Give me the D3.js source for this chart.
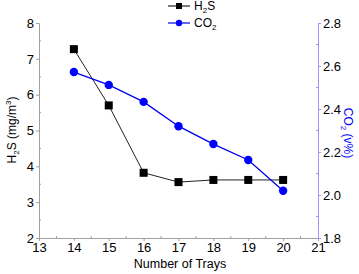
<!DOCTYPE html>
<html>
<head>
<meta charset="utf-8">
<script src="https://cdn.jsdelivr.net/npm/d3@7"></script>
<style>
  body { margin: 0; background: #fff; }
  svg { font-family: "Liberation Sans", Arial, sans-serif; }
</style>
</head>
<body>
<svg id="chart" width="359" height="274"></svg>
<script>
// data
const trays = [14, 15, 16, 17, 18, 19, 20];
const h2s = [7.27, 5.70, 3.82, 3.56, 3.62, 3.62, 3.62];
const co2 = [2.572, 2.512, 2.433, 2.32, 2.237, 2.163, 2.02];
const xTicks = [13, 14, 15, 16, 17, 18, 19, 20, 21];
const yLeftTicks = [2, 3, 4, 5, 6, 7, 8];
const yRightTicks = [1.8, 2.0, 2.2, 2.4, 2.6, 2.8];

const margin = { left: 39, right: 41, top: 23, bottom: 36 };
const width = 359 - margin.left - margin.right;
const height = 274 - margin.top - margin.bottom;

const svg = d3.select('#chart');
const chart = svg.append('g')
    .attr('transform', `translate(${margin.left},${margin.top})`);

const xScale = d3.scaleLinear().domain([13, 21]).range([0, width]);
const yLeft = d3.scaleLinear().domain([2, 8]).range([height, 0]);
const yRight = d3.scaleLinear().domain([1.8, 2.8]).range([height, 0]);

const grey = '#a0a0a0';
const lightBlue = '#9999ff';

// minor ticks (inward)
const xMinor = d3.range(13.5, 21, 1);
chart.selectAll('.xminor').data(xMinor).join('line')
    .attr('x1', d => xScale(d)).attr('x2', d => xScale(d))
    .attr('y1', height).attr('y2', height - 2)
    .attr('stroke', grey);
chart.selectAll('.lminor').data(d3.range(2.5, 8, 1)).join('line')
    .attr('class', 'lminor')
    .attr('x1', 0).attr('x2', 2)
    .attr('y1', d => yLeft(d)).attr('y2', d => yLeft(d))
    .attr('stroke', grey);
chart.selectAll('.rminor').data(d3.range(1.9, 2.8, 0.2)).join('line')
    .attr('class', 'rminor')
    .attr('x1', width).attr('x2', width - 2)
    .attr('y1', d => yRight(d)).attr('y2', d => yRight(d))
    .attr('stroke', lightBlue);

const xAxis = d3.axisBottom(xScale).tickValues(xTicks).tickSize(3).tickPadding(2).tickFormat(d3.format('d'));
const yAxisL = d3.axisLeft(yLeft).tickValues(yLeftTicks).tickSize(3).tickPadding(2).tickFormat(d3.format('d'));
const yAxisR = d3.axisRight(yRight).tickValues(yRightTicks).tickSize(3).tickPadding(2).tickFormat(d3.format('.1f'));

const xAxisG = chart.append('g').attr('transform', `translate(0,${height})`).call(xAxis);
const yAxisLG = chart.append('g').call(yAxisL);
const yAxisRG = chart.append('g').attr('transform', `translate(${width},0)`).call(yAxisR);

[xAxisG, yAxisLG].forEach(g => {
    g.select('.domain').attr('stroke', grey);
    g.selectAll('.tick line').attr('stroke', grey);
});
yAxisRG.select('.domain').attr('stroke', lightBlue);
yAxisRG.selectAll('.tick line').attr('stroke', lightBlue);
[xAxisG, yAxisLG, yAxisRG].forEach(g => {
    g.selectAll('.tick text').attr('font-size', 13).attr('fill', '#000')
        .attr('font-family', '"Liberation Sans", Arial, sans-serif');
});

// lines
const lineH2S = d3.line().x((d, i) => xScale(trays[i])).y(d => yLeft(d));
const lineCO2 = d3.line().x((d, i) => xScale(trays[i])).y(d => yRight(d));

chart.append('path').datum(h2s)
    .attr('d', lineH2S).attr('fill', 'none').attr('stroke', '#222').attr('stroke-width', 1);
chart.selectAll('.h2s').data(h2s).join('rect')
    .attr('class', 'h2s')
    .attr('x', (d, i) => xScale(trays[i]) - 4).attr('y', d => yLeft(d) - 4)
    .attr('width', 8).attr('height', 8).attr('fill', '#000');

chart.append('path').datum(co2)
    .attr('d', lineCO2).attr('fill', 'none').attr('stroke', '#0000ee').attr('stroke-width', 1.3);
chart.selectAll('.co2').data(co2).join('circle')
    .attr('class', 'co2')
    .attr('cx', (d, i) => xScale(trays[i])).attr('cy', d => yRight(d))
    .attr('r', 4.2).attr('fill', '#0000ff');

// axis labels
svg.append('text')
    .attr('x', 180).attr('y', 268)
    .attr('text-anchor', 'middle').attr('font-size', 12.5)
    .text('Number of Trays');

const leftLabel = svg.append('text')
    .attr('transform', 'translate(16,130) rotate(-90)')
    .attr('text-anchor', 'middle').attr('font-size', 12);
leftLabel.append('tspan').text('H');
leftLabel.append('tspan').attr('font-size', 8).attr('dy', 3).text('2');
leftLabel.append('tspan').attr('dy', -3).text('S (mg/m');
leftLabel.append('tspan').attr('font-size', 8).attr('dy', -5).text('3');
leftLabel.append('tspan').attr('dy', 5).text(')');

const rightLabel = svg.append('text')
    .attr('transform', 'translate(344,133) rotate(90)')
    .attr('text-anchor', 'middle').attr('font-size', 12).attr('fill', '#0000ff');
rightLabel.append('tspan').text('CO');
rightLabel.append('tspan').attr('font-size', 8).attr('dy', 3).text('2');
rightLabel.append('tspan').attr('dy', -3).text(' (v%)');

// legend
const legend = svg.append('g').attr('transform', 'translate(168,6)');
const legendItems = [
    { name: 'H', sub: '2', rest: 'S', color: '#222', marker: 'rect' },
    { name: 'CO', sub: '2', rest: '', color: '#0000ee', marker: 'circle' }
];
legendItems.forEach((item, i) => {
    const g = legend.append('g').attr('transform', `translate(0,${i * 17})`);
    g.append('line').attr('x1', 0).attr('x2', 22).attr('y1', 0).attr('y2', 0)
        .attr('stroke', item.color).attr('stroke-width', 1.2);
    if (item.marker === 'rect') {
        g.append('rect').attr('x', 8).attr('y', -3).attr('width', 6).attr('height', 6).attr('fill', '#000');
    } else {
        g.append('circle').attr('cx', 11).attr('cy', 0).attr('r', 3.2).attr('fill', '#0000ff');
    }
    const t = g.append('text').attr('x', 26).attr('y', 4).attr('font-size', 12);
    t.append('tspan').text(item.name);
    t.append('tspan').attr('font-size', 8).attr('dy', 3).text(item.sub);
    t.append('tspan').attr('dy', -3).text(item.rest);
});
</script>
</body>
</html>
